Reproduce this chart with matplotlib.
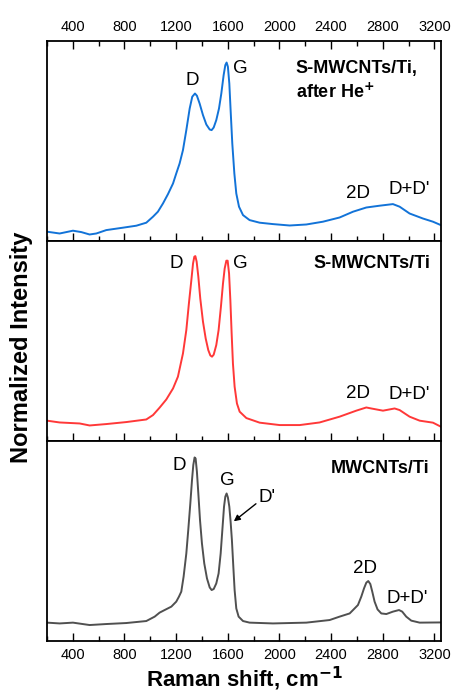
import matplotlib
matplotlib.use("Agg")
import matplotlib.pyplot as plt
from matplotlib.ticker import MultipleLocator

plt.rcParams['font.family'] = ['Liberation Sans', 'DejaVu Sans']

# Raman shift (cm-1) and normalized intensity, per sample
x_he = [200, 298, 401, 466, 530, 582, 659, 788, 892, 969, 1021, 1059, 1098, 1137, 1176,
        1201, 1227, 1253, 1279, 1305, 1325, 1346, 1361, 1382, 1408, 1434, 1460, 1475,
        1491, 1511, 1532, 1550, 1568, 1581, 1591, 1601, 1612, 1622, 1635, 1651, 1666,
        1687, 1718, 1769, 1847, 1950, 2079, 2208, 2337, 2466, 2570, 2673, 2776, 2879,
        2931, 3008, 3111, 3189, 3250]
y_he = [0.047, 0.038, 0.052, 0.045, 0.033, 0.038, 0.055, 0.067, 0.077, 0.092, 0.122,
        0.147, 0.188, 0.235, 0.288, 0.338, 0.388, 0.455, 0.555, 0.663, 0.722, 0.738,
        0.727, 0.688, 0.630, 0.583, 0.558, 0.555, 0.568, 0.605, 0.663, 0.738, 0.830,
        0.880, 0.893, 0.872, 0.788, 0.655, 0.488, 0.338, 0.238, 0.172, 0.130, 0.105,
        0.092, 0.085, 0.078, 0.083, 0.097, 0.118, 0.147, 0.168, 0.177, 0.185, 0.172,
        0.138, 0.113, 0.097, 0.080]

x_s = [200, 298, 453, 530, 659, 814, 969, 1021, 1072, 1124, 1176, 1214, 1253, 1279,
       1299, 1318, 1331, 1341, 1349, 1359, 1372, 1387, 1408, 1429, 1449, 1465, 1478,
       1491, 1511, 1529, 1547, 1563, 1576, 1589, 1599, 1610, 1620, 1630, 1640, 1653,
       1671, 1692, 1744, 1847, 2002, 2157, 2311, 2466, 2595, 2673, 2711, 2802, 2892,
       2931, 3008, 3086, 3189, 3250]
y_s = [0.102, 0.093, 0.088, 0.078, 0.085, 0.095, 0.108, 0.130, 0.167, 0.208, 0.263,
       0.322, 0.438, 0.555, 0.688, 0.805, 0.888, 0.922, 0.925, 0.897, 0.822, 0.713,
       0.597, 0.513, 0.455, 0.428, 0.422, 0.432, 0.480, 0.555, 0.672, 0.788, 0.863,
       0.902, 0.902, 0.838, 0.705, 0.538, 0.388, 0.272, 0.188, 0.147, 0.115, 0.092,
       0.080, 0.080, 0.093, 0.122, 0.152, 0.168, 0.163, 0.152, 0.163, 0.155, 0.122,
       0.102, 0.092, 0.072]

x_raw = [200, 298, 401, 530, 659, 814, 969, 1034, 1072, 1111, 1163, 1201, 1222, 1240,
         1258, 1279, 1294, 1310, 1323, 1333, 1343, 1351, 1361, 1372, 1385, 1400, 1418,
         1439, 1460, 1475, 1491, 1511, 1529, 1545, 1558, 1571, 1581, 1591, 1601, 1612,
         1622, 1632, 1643, 1653, 1666, 1684, 1718, 1769, 1950, 2208, 2389, 2466, 2544,
         2570, 2608, 2634, 2655, 2673, 2688, 2704, 2719, 2737, 2760, 2789, 2828, 2879,
         2926, 2951, 2982, 3021, 3086, 3250]
y_raw = [0.092, 0.088, 0.092, 0.080, 0.085, 0.090, 0.100, 0.122, 0.142, 0.155, 0.172,
         0.197, 0.222, 0.247, 0.322, 0.438, 0.555, 0.688, 0.805, 0.880, 0.918, 0.913,
         0.847, 0.738, 0.605, 0.488, 0.388, 0.313, 0.268, 0.255, 0.260, 0.288, 0.338,
         0.438, 0.555, 0.672, 0.722, 0.738, 0.718, 0.672, 0.597, 0.505, 0.372, 0.255,
         0.163, 0.122, 0.100, 0.092, 0.088, 0.092, 0.105, 0.122, 0.138, 0.155, 0.180,
         0.222, 0.263, 0.292, 0.300, 0.285, 0.247, 0.197, 0.158, 0.138, 0.135, 0.147,
         0.155, 0.147, 0.122, 0.102, 0.092, 0.093]

fig = plt.figure(figsize=(4.54, 6.97), dpi=100)
gs = fig.add_gridspec(3, 1, left=0.1035, right=0.971, bottom=0.0803, top=0.941, hspace=0)
axes = [fig.add_subplot(gs[i]) for i in range(3)]

panels = [(x_he, y_he, '#1273d8'), (x_s, y_s, '#ff3838'), (x_raw, y_raw, '#505050')]
for ax, (xs, ys, c) in zip(axes, panels):
    ax.plot(xs, ys, color=c, lw=1.4)
    ax.set_xlim(200, 3250)
    ax.set_ylim(0, 1)
    ax.set_yticks([])
    ax.xaxis.set_major_locator(MultipleLocator(400))
    ax.xaxis.set_minor_locator(MultipleLocator(200))
    ax.tick_params(axis='x', which='major', direction='in', length=6, width=1,
                   labelsize=10.5, pad=5)
    ax.tick_params(axis='x', which='minor', direction='in', length=3.5, width=1)
    ax.tick_params(axis='x', labelbottom=False)
    for s in ax.spines.values():
        s.set_linewidth(1.3)

# top panel: ticks on both edges, labels on top
axes[0].tick_params(axis='x', which='both', top=True, labeltop=True)
axes[2].tick_params(axis='x', labelbottom=True)

lbl = dict(fontsize=13.5, ha='center', va='center')
bold = dict(fontsize=13, fontweight='bold', va='center')

a = axes[0]
a.text(1328, 0.805, 'D', **lbl)
a.text(1700, 0.865, 'G', **lbl)
a.text(2606, 0.24, '2D', **lbl)
a.text(3008, 0.26, "D+D'", **lbl)
a.text(2125, 0.865, 'S-MWCNTs/Ti,', ha='left', **bold)
a.text(2125, 0.745, 'after He$^{\\mathbf{+}}$', ha='left', **bold)

a = axes[1]
a.text(1204, 0.89, 'D', **lbl)
a.text(1700, 0.89, 'G', **lbl)
a.text(2606, 0.24, '2D', **lbl)
a.text(3008, 0.235, "D+D'", **lbl)
a.text(3165, 0.89, 'S-MWCNTs/Ti', ha='right', **bold)

a = axes[2]
a.text(1227, 0.88, 'D', **lbl)
a.text(1599, 0.805, 'G', **lbl)
a.text(1905, 0.72, "D'", **lbl)
a.annotate('', xy=(1630, 0.59), xytext=(1835, 0.695),
           arrowprops=dict(arrowstyle='-|>', color='black', lw=1, mutation_scale=9))
a.text(2662, 0.365, '2D', **lbl)
a.text(2993, 0.215, "D+D'", **lbl)
a.text(3165, 0.865, 'MWCNTs/Ti', ha='right', **bold)

axes[2].set_xlabel('Raman shift, cm$^{\\mathbf{-1}}$', fontsize=16, fontweight='bold', labelpad=2)
fig.text(0.047, 0.502, 'Normalized Intensity', rotation=90, fontsize=17, fontweight='bold',
         ha='center', va='center')

fig.savefig('out.png', dpi=100)
